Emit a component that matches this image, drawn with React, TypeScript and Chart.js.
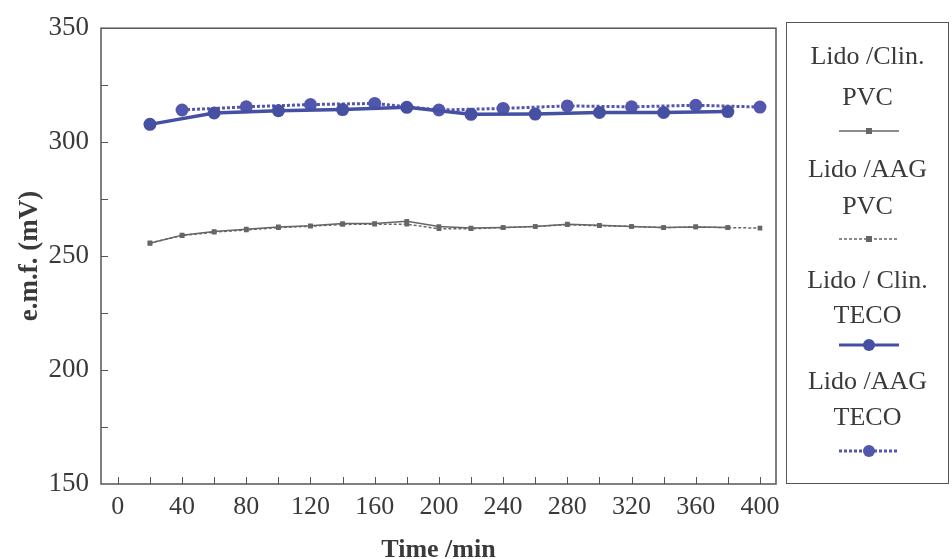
import React, { useEffect, useRef } from 'react';
import { Chart, registerables } from 'chart.js';

Chart.register(...registerables);

// ---- data ----
const clinPvcTimes = [20, 40, 60, 80, 100, 120, 140, 160, 180, 200, 220, 240, 260, 280, 300, 320, 340, 360, 380];
const clinPvc = [255.6, 259.2, 260.8, 261.8, 262.8, 263.3, 264.3, 264.3, 265.3, 263.0, 262.3, 262.5, 263.0, 264.0, 263.5, 263.0, 262.5, 262.8, 262.5];

const aagPvcTimes = [20, 40, 60, 80, 100, 120, 140, 160, 180, 200, 220, 240, 260, 280, 300, 320, 340, 360, 380, 400];
const aagPvc = [255.8, 259.0, 260.5, 261.5, 262.5, 263.1, 263.9, 264.0, 264.0, 262.0, 262.0, 262.5, 263.0, 263.8, 263.3, 263.0, 262.5, 262.8, 262.5, 262.3];

const clinTecoTimes = [20, 60, 100, 140, 180, 220, 260, 300, 340, 380];
const clinTeco = [307.8, 312.8, 313.8, 314.3, 315.3, 312.2, 312.3, 313.0, 313.0, 313.4];

const aagTecoTimes = [40, 80, 120, 160, 200, 240, 280, 320, 360, 400];
const aagTeco = [314.1, 315.5, 316.5, 317.0, 314.1, 314.8, 315.9, 315.5, 316.2, 315.4];

const seriesLabels = [
  ['Lido /Clin.', 'PVC'],
  ['Lido /AAG', 'PVC'],
  ['Lido / Clin.', 'TECO'],
  ['Lido /AAG', 'TECO'],
];

const xLabelTicks = [0, 40, 80, 120, 160, 200, 240, 280, 320, 360, 400];
const xTickMarks = [0, 20, 40, 60, 80, 100, 120, 140, 160, 180, 200, 220, 240, 260, 280, 300, 320, 340, 360, 380, 400];
const yLabelTicks = [150, 200, 250, 300, 350];
const yTickMarks = [175, 200, 225, 250, 275, 300, 325];

const xTitle = 'Time /min';
const yTitle = 'e.m.f. (mV)';

// ---- styles ----
const GREY = '#666666';
const BLUE = '#4650a3';
const BLUE2 = '#5257ad';
const AXIS = '#555555';
const TEXT = '#3a3a3a';
const FONT = "'Liberation Serif', 'Times New Roman', serif";

const toPts = (xs: number[], ys: number[]) => xs.map((x, i) => ({ x, y: ys[i] }));

const framePlugin = {
  id: 'frame',
  beforeDatasetsDraw(chart: any) {
    const { ctx, chartArea } = chart;
    const xs = chart.scales.x;
    const ys = chart.scales.y;
    ctx.save();
    ctx.strokeStyle = AXIS;
    ctx.lineWidth = 1.5;
    ctx.strokeRect(chartArea.left, chartArea.top, chartArea.right - chartArea.left, chartArea.bottom - chartArea.top);
    ctx.lineWidth = 1;
    ctx.beginPath();
    for (const v of xTickMarks) {
      const px = Math.round(xs.getPixelForValue(v)) + 0.5;
      ctx.moveTo(px, chartArea.bottom);
      ctx.lineTo(px, chartArea.bottom - 7);
    }
    for (const v of yTickMarks) {
      const py = Math.round(ys.getPixelForValue(v)) + 0.5;
      ctx.moveTo(chartArea.left, py);
      ctx.lineTo(chartArea.left + 7, py);
    }
    ctx.stroke();
    ctx.restore();
  },
};

function LegendSample({ color, width, dash, marker }: { color: string; width: number; dash?: string; marker: 'rect' | 'circle' }) {
  return (
    <svg width={64} height={16} style={{ display: 'block' }}>
      <line x1={2} y1={8} x2={62} y2={8} stroke={color} strokeWidth={width} strokeDasharray={dash} />
      {marker === 'rect' ? (
        <rect x={29} y={5} width={6} height={6} fill={color} />
      ) : (
        <circle cx={32} cy={8} r={6} fill={color} />
      )}
    </svg>
  );
}

export default function App() {
  const ref = useRef<HTMLCanvasElement | null>(null);

  useEffect(() => {
    if (!ref.current) return;
    const chart = new Chart(ref.current, {
      type: 'line',
      data: {
        datasets: [
          {
            label: seriesLabels[0].join(' '),
            data: toPts(clinPvcTimes, clinPvc),
            borderColor: GREY,
            backgroundColor: GREY,
            borderWidth: 1.5,
            pointStyle: 'rect',
            pointRadius: 3.3,
            pointBorderWidth: 0,
            pointBackgroundColor: GREY,
          },
          {
            label: seriesLabels[1].join(' '),
            data: toPts(aagPvcTimes, aagPvc),
            borderColor: GREY,
            backgroundColor: GREY,
            borderWidth: 1.5,
            borderDash: [3, 2],
            pointStyle: 'rect',
            pointRadius: 3.3,
            pointBorderWidth: 0,
            pointBackgroundColor: GREY,
          },
          {
            label: seriesLabels[2].join(' '),
            data: toPts(clinTecoTimes, clinTeco),
            borderColor: BLUE,
            backgroundColor: BLUE,
            borderWidth: 3.5,
            pointStyle: 'circle',
            pointRadius: 6.5,
            pointBorderWidth: 0,
            pointBackgroundColor: BLUE,
          },
          {
            label: seriesLabels[3].join(' '),
            data: toPts(aagTecoTimes, aagTeco),
            borderColor: BLUE2,
            backgroundColor: BLUE2,
            borderWidth: 3,
            borderDash: [3, 2],
            pointStyle: 'circle',
            pointRadius: 6.5,
            pointBorderWidth: 0,
            pointBackgroundColor: BLUE2,
          },
        ],
      },
      options: {
        animation: false,
        responsive: false,
        layout: { padding: { top: 22, right: 176, left: 0, bottom: 0 } },
        plugins: {
          legend: { display: false },
          tooltip: { enabled: false },
        },
        elements: { line: { tension: 0 } },
        scales: {
          x: {
            type: 'linear',
            min: -10.5,
            max: 410,
            grid: { display: false, drawTicks: false },
            border: { display: false },
            afterBuildTicks: (scale: any) => {
              scale.ticks = xLabelTicks.map((v) => ({ value: v }));
            },
            afterFit: (scale: any) => {
              scale.height = 75;
            },
            ticks: {
              padding: 8,
              maxRotation: 0,
              autoSkip: false,
              color: TEXT,
              font: { family: FONT, size: 26 },
            },
            title: {
              display: true,
              text: xTitle,
              color: TEXT,
              padding: { top: 0, bottom: 0 },
              font: { family: FONT, size: 26, weight: 'bold', lineHeight: 0.7 },
            },
          },
          y: {
            type: 'linear',
            min: 150,
            max: 350,
            grid: { display: false, drawTicks: false },
            border: { display: false },
            afterBuildTicks: (scale: any) => {
              scale.ticks = yLabelTicks.map((v) => ({ value: v }));
            },
            afterFit: (scale: any) => {
              scale.width = 101;
            },
            ticks: {
              padding: 12,
              color: TEXT,
              font: { family: FONT, size: 27 },
            },
            title: {
              display: true,
              text: yTitle,
              color: TEXT,
              padding: { top: 14, bottom: 0 },
              font: { family: FONT, size: 27, weight: 'bold', lineHeight: 1.2 },
            },
          },
        },
      },
      plugins: [framePlugin],
    } as any);
    return () => chart.destroy();
  }, []);

  const textTops = [[55, 96], [168, 205], [279, 314], [380, 416]];
  const sampleY = [130, 238, 344, 450];
  const samples = [
    { color: GREY, width: 1.5, marker: 'rect' as const },
    { color: GREY, width: 1.5, dash: '3 2', marker: 'rect' as const },
    { color: BLUE, width: 3, marker: 'circle' as const },
    { color: BLUE2, width: 3, dash: '3 2', marker: 'circle' as const },
  ];
  const boxLeft = 786;
  const boxTop = 22;

  return (
    <div style={{ position: 'absolute', left: 0, top: 0, width: 952, height: 559, background: '#ffffff' }}>
      <canvas ref={ref} width={952} height={559} style={{ width: 952, height: 559, display: 'block' }} />
      <div
        style={{
          position: 'absolute',
          left: boxLeft,
          top: boxTop,
          width: 163,
          height: 462,
          border: `1.5px solid ${AXIS}`,
          boxSizing: 'border-box',
          fontFamily: FONT,
          fontSize: 26,
          color: TEXT,
        }}
      >
        {seriesLabels.map((lines, i) => (
          <React.Fragment key={i}>
            {lines.map((t, j) => (
              <div
                key={j}
                style={{
                  position: 'absolute',
                  left: 0,
                  width: '100%',
                  textAlign: 'center',
                  top: textTops[i][j] - boxTop - 15,
                  height: 30,
                  lineHeight: '30px',
                  whiteSpace: 'nowrap',
                }}
              >
                {t}
              </div>
            ))}
            <div style={{ position: 'absolute', left: 50, top: sampleY[i] - boxTop - 8 }}>
              <LegendSample {...samples[i]} />
            </div>
          </React.Fragment>
        ))}
      </div>
    </div>
  );
}
